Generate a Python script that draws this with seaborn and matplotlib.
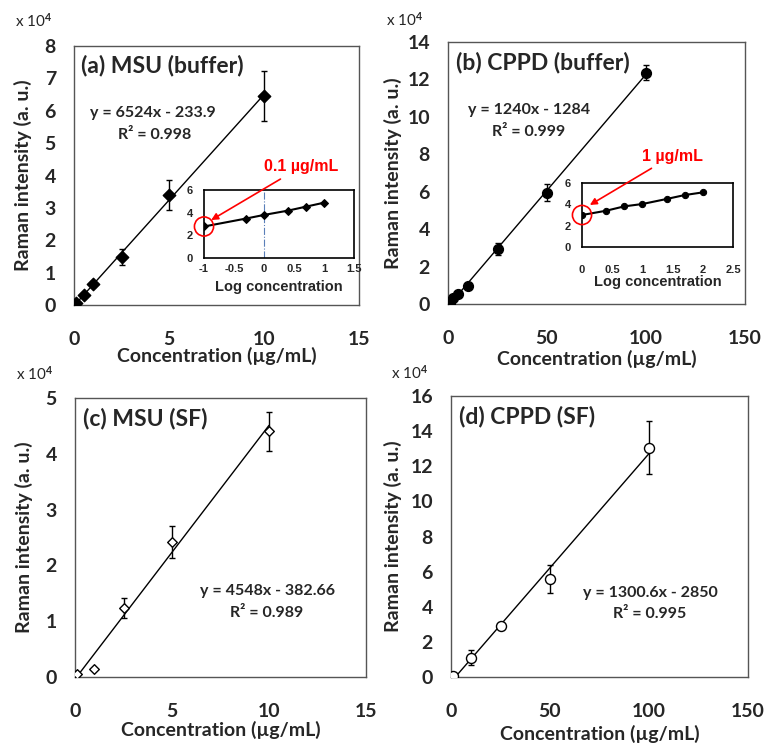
import numpy as np
import matplotlib
matplotlib.use("Agg")
import matplotlib.pyplot as plt
import seaborn as sns

# (a) MSU in buffer, intensities in units of 1e4
msu_buf_conc = [0.1, 0.5, 1, 2.5, 5, 10]
msu_buf_int = [0.05, 0.31, 0.65, 1.49, 3.40, 6.46]
msu_buf_err = [0.02, 0.04, 0.10, 0.25, 0.47, 0.77]
msu_buf_logc = [-1, -0.3, 0, 0.4, 0.7, 1]
msu_buf_logi = [2.78, 3.48, 3.80, 4.18, 4.53, 4.88]

# (b) CPPD in buffer
cppd_buf_conc = [1, 2.5, 5, 10, 25, 50, 100]
cppd_buf_int = [0.07, 0.30, 0.54, 0.96, 2.95, 5.95, 12.37]
cppd_buf_err = [0.03, 0.05, 0.08, 0.12, 0.33, 0.47, 0.40]
cppd_buf_logc = [0, 0.4, 0.7, 1, 1.4, 1.7, 2]
cppd_buf_logi = [3.00, 3.40, 3.81, 4.03, 4.50, 4.87, 5.12]

# (c) MSU in synovial fluid
msu_sf_conc = [0.1, 1, 2.5, 5, 10]
msu_sf_int = [0.05, 0.15, 1.24, 2.42, 4.40]
msu_sf_err = [0.0, 0.0, 0.18, 0.28, 0.35]

# (d) CPPD in synovial fluid
cppd_sf_conc = [1, 10, 25, 50, 100]
cppd_sf_int = [0.08, 1.10, 2.90, 5.58, 13.06]
cppd_sf_err = [0.0, 0.42, 0.15, 0.82, 1.49]

# linear fits (slope, intercept, x range), intensity in units of 1e4
fit_a = (0.6524, -0.02339, 0.1, 10)
fit_b = (0.1240, -0.1284, 1, 100)
fit_c = (0.4548, -0.038266, 0.084, 10)
fit_d = (0.13006, -0.2850, 2.19, 100)

W, H = 778, 756


def rect(left, top, right, bottom):
    return [left / W, 1 - bottom / H, (right - left) / W, (bottom - top) / H]


def fig_xy(x, y):
    return x / W, 1 - y / H


sns.set_style("white")
plt.rcParams["font.family"] = ["Lato", "DejaVu Sans"]
plt.rcParams["font.weight"] = "bold"
plt.rcParams["axes.labelweight"] = "bold"
plt.rcParams["mathtext.fontset"] = "custom"
plt.rcParams["mathtext.rm"] = "Lato"
plt.rcParams["mathtext.it"] = "Lato:italic"
plt.rcParams["mathtext.bf"] = "Lato:bold"

fig = plt.figure(figsize=(W / 100, H / 100), dpi=100)


def draw_main(ax, conc, inten, err, fit, marker, size, filled, xmax, ymax, ystep,
              title, eq, r2, eq_pos, r2_pos, ylab_x, xlab_y):
    xs = np.array([fit[2], fit[3]])
    sns.lineplot(x=xs, y=fit[0] * xs + fit[1], color="k", lw=1, ax=ax)
    ax.errorbar(conc, inten, yerr=err, fmt="none", ecolor="k", elinewidth=1,
                capsize=2.5, capthick=1, zorder=2)
    sns.scatterplot(x=conc, y=inten, marker=marker, s=size,
                    color="k" if filled else "white", edgecolor="k",
                    linewidth=1, zorder=3, legend=False, ax=ax)
    ax.set_xlim(0, xmax)
    ax.set_xticks(np.linspace(0, xmax, 4))
    ax.set_ylim(0, ymax)
    ax.set_yticks(np.arange(0, ymax + 0.01, ystep))
    ax.tick_params(direction="in", length=4, width=1, color="#555555", labelsize=14)
    ax.tick_params(axis="x", pad=19)
    ax.tick_params(axis="y", pad=13)
    for s in ax.spines.values():
        s.set_color("#555555")
        s.set_linewidth(1)
    ax.set_xlabel("Concentration (µg/mL)", fontsize=14)
    ax.set_ylabel("Raman intensity (a. u.)", fontsize=14)
    ax.xaxis.set_label_coords(0.5, xlab_y)
    ax.yaxis.set_label_coords(ylab_x, 0.5)
    ax.text(0.026, 0.965, title, transform=ax.transAxes, ha="left", va="top", fontsize=16.5)
    ax.text(eq_pos[0], eq_pos[1], eq, transform=ax.transAxes, ha="center", va="center",
            fontsize=11.5)
    ax.text(r2_pos[0], r2_pos[1], r2, transform=ax.transAxes, ha="center", va="center",
            fontsize=11.5)


def draw_inset(axi, logc, logi, marker, ms, xmin, xmax, label_pad, xlab_y, note, note_pos,
               head, vline=False):
    if vline:
        axi.axvline(0, color="#5a7fb8", ls="-.", lw=0.8)
    sns.lineplot(x=logc, y=logi, color="k", lw=1.5, marker=marker, markersize=ms,
                 markeredgecolor="k", markerfacecolor="k", ax=axi)
    axi.scatter([logc[0]], [logi[0]], s=190, facecolors="none", edgecolors="red",
                linewidths=1.2, clip_on=False, zorder=5)
    ticks = np.arange(xmin, xmax + 0.01, 0.5)
    axi.set_xlim(xmin, xmax)
    axi.set_xticks(ticks)
    axi.set_xticklabels([f"{v:g}" for v in ticks])
    axi.set_ylim(0, 6)
    axi.set_yticks([0, 2, 4, 6])
    for lab in axi.get_xticklabels() + axi.get_yticklabels():
        lab.set_family("Liberation Sans")
    axi.tick_params(direction="in", length=3, width=1, color="k", labelsize=8)
    axi.tick_params(axis="x", pad=label_pad)
    axi.tick_params(axis="y", pad=8)
    for s in axi.spines.values():
        s.set_color("k")
        s.set_linewidth(1.2)
    axi.set_xlabel("Log concentration", fontsize=10.5, family="Liberation Sans")
    axi.xaxis.set_label_coords(0.5, xlab_y)
    axi.set_ylabel("")
    axi.annotate(note, xy=head, xycoords="data", xytext=note_pos, textcoords="axes fraction",
                 ha="center", va="center", color="red", fontsize=11.5,
                 family="Liberation Sans", annotation_clip=False,
                 arrowprops=dict(arrowstyle="-|>", color="red", lw=1.2, mutation_scale=10,
                                 shrinkA=2, shrinkB=0))


# (a)
ax_a = fig.add_axes(rect(74, 46, 359, 305))
draw_main(ax_a, msu_buf_conc, msu_buf_int, msu_buf_err, fit_a, "D", 40, True, 15, 8, 1,
          "(a) MSU (buffer)", "y = 6524x - 233.9", "R² = 0.998",
          (0.277, 0.741), (0.284, 0.656), -0.147, -0.162)
ins_a = fig.add_axes(rect(204, 190, 354, 258))
draw_inset(ins_a, msu_buf_logc, msu_buf_logi, "D", 4.5, -1, 1.5, 4, -0.33,
           "0.1 µg/mL", (0.647, 1.34), (-0.88, 3.35), vline=True)

# (b)
ax_b = fig.add_axes(rect(448, 42, 745, 304))
draw_main(ax_b, cppd_buf_conc, cppd_buf_int, cppd_buf_err, fit_b, "o", 50, True, 150, 14, 2,
          "(b) CPPD (buffer)", "y = 1240x - 1284", "R² = 0.999",
          (0.273, 0.740), (0.273, 0.656), -0.155, -0.176)
ins_b = fig.add_axes(rect(582, 183, 733, 247))
draw_inset(ins_b, cppd_buf_logc, cppd_buf_logi, "o", 4.5, 0, 2.5, 13, -0.44,
           "1 µg/mL", (0.596, 1.42), (0.13, 3.94))

# (c)
ax_c = fig.add_axes(rect(75, 398, 366, 677))
draw_main(ax_c, msu_sf_conc, msu_sf_int, msu_sf_err, fit_c, "D", 24, False, 15, 5, 1,
          "(c) MSU (SF)", "y = 4548x - 382.66", "R² = 0.989",
          (0.66, 0.308), (0.66, 0.23), -0.144, -0.158)

# (d)
ax_d = fig.add_axes(rect(451, 396, 748, 677))
draw_main(ax_d, cppd_sf_conc, cppd_sf_int, cppd_sf_err, fit_d, "o", 52, False, 150, 16, 2,
          "(d) CPPD (SF)", "y = 1300.6x - 2850", "R² = 0.995",
          (0.67, 0.3), (0.67, 0.225), -0.165, -0.171)

# exponent labels
for x, y in [(34, 21), (405, 20), (35, 374), (410, 373)]:
    fx, fy = fig_xy(x, y)
    fig.text(fx, fy, "x 10$^{4}$", ha="center", va="center", fontsize=11,
             fontweight="normal")

fig.savefig("out.png", dpi=100)
